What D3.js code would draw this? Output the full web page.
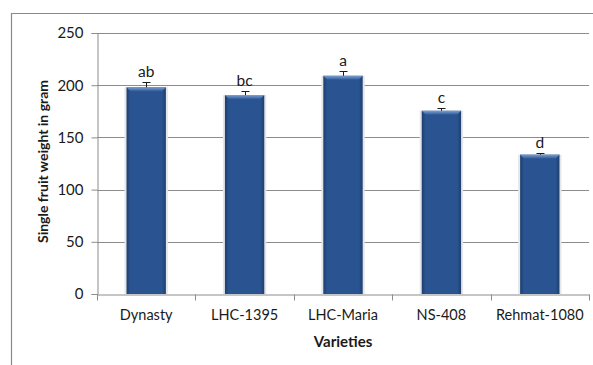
<!DOCTYPE html>
<html>
<head>
<meta charset="utf-8">
<script src="https://cdn.jsdelivr.net/npm/d3@7"></script>
<style>
  html, body { margin: 0; padding: 0; background: #fff; }
  svg { display: block; }
  text { font-family: Lato, "Open Sans", sans-serif; fill: #1a1a1a; }
</style>
</head>
<body>
<svg id="chart" width="593" height="365"></svg>
<script>
const varieties = ['Dynasty', 'LHC-1395', 'LHC-Maria', 'NS-408', 'Rehmat-1080'];
const weights = [198, 190.5, 209, 175.5, 133.5];
const errors = [5, 3.5, 5, 3, 2];
const letters = ['ab', 'bc', 'a', 'c', 'd'];
const yTicks = [0, 50, 100, 150, 200, 250];

const svg = d3.select('#chart');
const margin = { left: 97, right: 4, top: 33, bottom: 71 };
const width = 593, height = 365;

// chart frame (cropped at right/bottom like the source)
svg.append('path')
    .attr('d', `M11.5,${height}V13.5H${width}`)
    .attr('fill', 'none')
    .attr('stroke', '#8a8a8a')
    .attr('stroke-width', 1.2);

const x = d3.scaleBand()
    .domain(varieties)
    .range([margin.left, width - margin.right])
    .paddingInner(0.6)
    .paddingOuter(0.3);

const y = d3.scaleLinear()
    .domain([0, 250])
    .range([height - margin.bottom, margin.top]);

const defs = svg.append('defs');
const grad = defs.append('linearGradient').attr('id', 'barGrad')
    .attr('x1', 0).attr('x2', 1).attr('y1', 0).attr('y2', 0);
grad.append('stop').attr('offset', '0%').attr('stop-color', '#1d3f6e');
grad.append('stop').attr('offset', '10%').attr('stop-color', '#2a5391');
grad.append('stop').attr('offset', '90%').attr('stop-color', '#2a5391');
grad.append('stop').attr('offset', '100%').attr('stop-color', '#1d3f6e');

const topGrad = defs.append('linearGradient').attr('id', 'topGrad')
    .attr('x1', 0).attr('x2', 0).attr('y1', 0).attr('y2', 1);
topGrad.append('stop').attr('offset', '0%').attr('stop-color', '#7d9fd0');
topGrad.append('stop').attr('offset', '100%').attr('stop-color', '#2f5a98');

// gridlines
svg.append('g')
    .selectAll('line')
    .data(yTicks.slice(1))
    .join('line')
    .attr('x1', margin.left)
    .attr('x2', width - margin.right)
    .attr('y1', d => Math.round(y(d)) + 0.5)
    .attr('y2', d => Math.round(y(d)) + 0.5)
    .attr('stroke', '#8c8c8c')
    .attr('stroke-width', 1);

// y axis
const yAxis = svg.append('g')
    .attr('transform', `translate(${margin.left + 0.5},0)`)
    .call(d3.axisLeft(y).tickValues(yTicks).tickSize(6).tickPadding(8));
yAxis.select('.domain').attr('stroke', '#8c8c8c');
yAxis.selectAll('.tick line').attr('stroke', '#8c8c8c');
yAxis.selectAll('.tick text')
    .attr('font-size', 15)
    .attr('font-family', 'Lato, sans-serif')
    .attr('fill', '#1a1a1a');

// bars
const bars = svg.append('g')
    .selectAll('g')
    .data(varieties)
    .join('g');

// soft shadow
bars.append('rect')
    .attr('x', d => x(d) - 2)
    .attr('y', (d, i) => y(weights[i]))
    .attr('width', x.bandwidth() + 4)
    .attr('height', (d, i) => y(0) - y(weights[i]))
    .attr('fill', '#e4e6ea');

bars.append('rect')
    .attr('x', d => x(d))
    .attr('y', (d, i) => y(weights[i]))
    .attr('width', x.bandwidth())
    .attr('height', (d, i) => y(0) - y(weights[i]))
    .attr('fill', 'url(#barGrad)');

// top bevel
bars.append('path')
    .attr('d', (d, i) => {
        const x0 = x(d), x1 = x(d) + x.bandwidth(), t = y(weights[i]);
        return `M${x0},${t}H${x1}L${x1 - 4},${t + 4}H${x0 + 4}Z`;
    })
    .attr('fill', 'url(#topGrad)');

// error bars (upper only)
bars.append('path')
    .attr('d', (d, i) => {
        const cx = Math.round(x(d) + x.bandwidth() / 2) + 0.5;
        const t = y(weights[i]);
        const e = Math.round(y(weights[i] + errors[i])) + 0.5;
        return `M${cx},${t}V${e}M${cx - 4},${e}H${cx + 4}`;
    })
    .attr('fill', 'none')
    .attr('stroke', '#1a1a1a')
    .attr('stroke-width', 1);

// significance letters
bars.append('text')
    .attr('x', d => x(d) + x.bandwidth() / 2)
    .attr('y', (d, i) => y(weights[i] + errors[i]) - 5)
    .attr('text-anchor', 'middle')
    .attr('font-size', 15.5)
    .text((d, i) => letters[i]);

// x axis
const xAxis = svg.append('g')
    .attr('transform', `translate(0,${Math.round(y(0)) + 0.5})`)
    .call(d3.axisBottom(x).tickSize(0).tickPadding(15));
xAxis.select('.domain').attr('stroke', '#8c8c8c');
xAxis.selectAll('.tick text')
    .attr('font-size', 14.5)
    .attr('font-family', 'Lato, sans-serif')
    .attr('fill', '#1a1a1a');

// category boundary ticks
const bounds = d3.range(varieties.length + 1)
    .map(i => margin.left + i * (width - margin.right - margin.left) / varieties.length);
xAxis.selectAll('.bound')
    .data(bounds)
    .join('line')
    .attr('class', 'bound')
    .attr('x1', d => Math.round(d) + 0.5)
    .attr('x2', d => Math.round(d) + 0.5)
    .attr('y1', 0)
    .attr('y2', 6)
    .attr('stroke', '#8c8c8c');

// axis titles
svg.append('text')
    .attr('transform', `translate(48,${(y(0) + y(250)) / 2 - 2}) rotate(-90)`)
    .attr('text-anchor', 'middle')
    .attr('font-size', 14)
    .attr('font-weight', 'bold')
    .text('Single fruit weight in gram');

svg.append('text')
    .attr('x', (margin.left + width - margin.right) / 2)
    .attr('y', 347)
    .attr('text-anchor', 'middle')
    .attr('font-size', 15)
    .attr('font-weight', 'bold')
    .text('Varieties');
</script>
</body>
</html>
